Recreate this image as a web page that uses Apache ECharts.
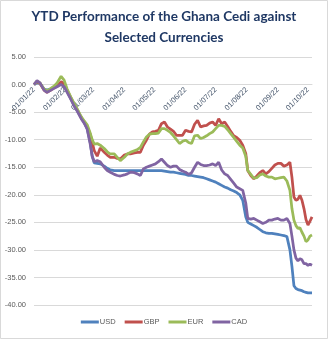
<!DOCTYPE html>
<html>
<head>
<meta charset="utf-8">
<script src="https://cdn.jsdelivr.net/npm/echarts@6/dist/echarts.min.js"></script>
<style>
html,body{margin:0;padding:0;background:#fff;}
#c{width:328px;height:339px;}
</style>
</head>
<body>
<div id="c"></div>
<script>
var titleText = 'YTD Performance of the Ghana Cedi against\nSelected Currencies';
var seriesNames = ['USD', 'GBP', 'EUR', 'CAD'];
var yTicks = [5, 0, -5, -10, -15, -20, -25, -30, -35, -40];

var dates = [
'2022-01-01','2022-01-04','2022-01-07','2022-01-11','2022-01-14','2022-01-17','2022-01-21','2022-01-24','2022-01-28','2022-01-31',
'2022-02-03','2022-02-07','2022-02-10','2022-02-13','2022-02-17','2022-02-20','2022-02-23','2022-02-26','2022-02-28','2022-03-02',
'2022-03-05','2022-03-08','2022-03-12','2022-03-15','2022-03-18','2022-03-22','2022-03-25','2022-03-28','2022-04-01','2022-04-04',
'2022-04-07','2022-04-11','2022-04-14','2022-04-17','2022-04-20','2022-04-23','2022-04-26','2022-04-29','2022-05-02','2022-05-05',
'2022-05-08','2022-05-11','2022-05-14','2022-05-17','2022-05-20','2022-05-23','2022-05-26','2022-05-29','2022-06-01','2022-06-04',
'2022-06-07','2022-06-10','2022-06-13','2022-06-16','2022-06-19','2022-06-22','2022-06-25','2022-06-28','2022-07-01','2022-07-04',
'2022-07-07','2022-07-10','2022-07-13','2022-07-16','2022-07-19','2022-07-22','2022-07-25','2022-07-28','2022-07-31','2022-08-02',
'2022-08-05','2022-08-08','2022-08-11','2022-08-14','2022-08-17','2022-08-20','2022-08-23','2022-08-26','2022-08-29','2022-09-01',
'2022-09-04','2022-09-07','2022-09-10','2022-09-13','2022-09-15','2022-09-17','2022-09-19','2022-09-21','2022-09-23','2022-09-25',
'2022-09-27','2022-09-29','2022-10-01','2022-10-03','2022-10-05'
];

var usd = [
0,0.3,0.2,-0.8,-1.0,-0.8,-0.5,-0.1,0.3,-0.2,
-1.2,-2.7,-3.8,-4.7,-6.0,-6.9,-8.0,-10.5,-13.0,-14.2,
-14.3,-14.4,-14.8,-15.2,-15.5,-15.6,-15.6,-15.6,-15.6,-15.6,
-15.6,-15.6,-15.6,-15.6,-15.6,-15.6,-15.6,-15.6,-15.6,-15.6,
-15.6,-15.7,-15.8,-15.9,-15.9,-16.0,-16.1,-16.2,-16.3,-16.5,
-16.5,-16.6,-16.7,-16.8,-16.9,-17.1,-17.3,-17.5,-17.7,-18.0,
-18.3,-18.6,-18.8,-19.1,-19.3,-19.6,-20.0,-21.0,-24.0,-25.0,
-25.3,-25.6,-25.9,-26.3,-26.7,-26.9,-27.0,-27.0,-27.1,-27.2,
-27.3,-27.4,-27.6,-30.0,-33.0,-36.5,-37.0,-37.2,-37.3,-37.4,
-37.6,-37.7,-37.8,-37.8,-37.8
];

var gbp = [
0,0.5,0.2,-1.0,-1.4,-1.1,-0.6,-0.3,0.5,0.2,
-1.0,-2.5,-3.6,-4.5,-6.0,-6.8,-7.6,-9.0,-10.5,-12.0,
-13.0,-11.5,-12.3,-12.8,-13.2,-13.2,-13.4,-13.5,-12.8,-12.6,
-12.6,-12.4,-12.3,-12.3,-11.0,-10.1,-9.0,-8.6,-8.5,-8.3,
-7.1,-6.8,-7.7,-8.1,-8.5,-9.2,-9.2,-9.2,-8.3,-8.5,
-8.6,-7.2,-6.5,-7.7,-7.5,-7.4,-7.0,-6.8,-7.4,-6.2,
-7.1,-6.8,-7.6,-8.5,-9.3,-9.6,-10.1,-11.0,-12.5,-15.6,
-16.5,-17.1,-16.6,-16.0,-15.6,-16.2,-15.8,-15.2,-14.6,-14.3,
-14.3,-14.8,-14.6,-14.1,-16.8,-20.4,-21.0,-20.8,-20.1,-21.0,
-22.5,-24.5,-25.5,-24.8,-24.0
];

var eur = [
0,0.6,0.3,-0.8,-1.1,-0.8,-0.3,0.3,1.5,0.8,
-0.8,-2.4,-3.4,-4.4,-5.8,-6.6,-7.3,-8.8,-10.0,-10.8,
-10.7,-11.0,-11.6,-12.2,-12.6,-12.6,-13.2,-13.8,-13.2,-12.6,
-12.3,-12.0,-11.8,-11.4,-10.4,-9.5,-9.0,-8.9,-8.9,-8.8,
-8.0,-8.0,-8.3,-8.7,-9.3,-10.0,-10.7,-10.3,-10.1,-10.5,
-10.7,-9.3,-9.2,-9.8,-9.6,-9.3,-8.9,-8.6,-8.0,-7.4,
-7.4,-7.6,-8.2,-8.9,-9.6,-10.3,-11.0,-11.5,-13.0,-15.6,
-16.3,-17.0,-16.9,-16.4,-16.2,-16.6,-16.8,-16.8,-17.1,-17.0,
-16.9,-16.8,-17.5,-19.2,-22.5,-24.6,-25.6,-26.1,-26.0,-26.8,
-27.5,-28.5,-28.2,-27.5,-27.3
];

var cad = [
0,0.7,0.3,-1.0,-1.4,-1.1,-0.7,-0.4,0.0,-0.4,
-1.4,-2.8,-3.9,-4.8,-6.2,-7.0,-8.1,-10.8,-13.0,-14.0,
-13.8,-14.0,-15.0,-15.6,-15.9,-16.3,-16.5,-16.6,-16.4,-16.2,
-15.9,-16.0,-16.2,-16.5,-15.3,-15.0,-14.8,-14.6,-14.4,-14.0,
-13.5,-14.1,-14.7,-15.0,-14.8,-14.8,-15.4,-15.7,-15.9,-16.3,
-16.0,-15.0,-14.1,-14.5,-14.7,-14.7,-14.6,-14.4,-14.7,-14.1,
-15.5,-16.2,-16.5,-17.2,-17.9,-18.6,-18.9,-19.2,-21.5,-24.3,
-24.4,-24.3,-24.6,-24.9,-25.2,-25.0,-24.6,-24.6,-24.4,-24.3,
-24.6,-24.6,-24.3,-25.2,-27.5,-30.0,-31.5,-32.0,-31.6,-31.8,
-32.5,-32.5,-32.8,-32.6,-32.8
];

var values = [usd, gbp, eur, cad];
var colors = ['#4F81BD', '#C0504D', '#9BBB59', '#8064A2'];

function pair(arr) {
  return dates.map(function (d, i) { return [d, arr[i]]; });
}
function pad(n) { return (n < 10 ? '0' : '') + n; }

var GRID_TOP = 57, GRID_BOTTOM = 34, H = 339;
var gridH = H - GRID_TOP - GRID_BOTTOM;
var yMax = yTicks[0], yMin = yTicks[yTicks.length - 1];
var zeroOffset = -gridH * (0 - yMin) / (yMax - yMin);

var chart = echarts.init(document.getElementById('c'), null, {renderer: 'canvas'});
var DAY = 24 * 3600 * 1000;
chart.setOption({
  backgroundColor: '#ffffff',
  animation: false,
  color: colors,
  title: {
    text: titleText,
    left: 'center',
    top: 1,
    textStyle: {
      fontFamily: 'Lato',
      fontWeight: 'bold',
      fontSize: 13.5,
      lineHeight: 21,
      color: '#1F3864'
    }
  },
  graphic: [{
    type: 'rect',
    shape: {x: 0.5, y: 0.5, width: 327, height: 338},
    style: {fill: 'none', stroke: '#D9D9D9', lineWidth: 1},
    silent: true
  }],
  grid: {left: 34, right: 16, top: GRID_TOP, bottom: GRID_BOTTOM, containLabel: false},
  xAxis: {
    type: 'time',
    min: dates[0],
    max: dates[dates.length - 1],
    minInterval: 28 * DAY,
    maxInterval: 31 * DAY,
    splitNumber: 10,
    offset: zeroOffset,
    axisLine: {onZero: false, lineStyle: {color: '#D9D9D9', width: 1}},
    axisTick: {show: false},
    splitLine: {show: false},
    axisLabel: {
      rotate: 45,
      fontSize: 7.5,
      fontFamily: 'Liberation Sans',
      color: '#44546A',
      margin: 4,
      showMaxLabel: false,
      hideOverlap: false,
      formatter: function (v) {
        var d = new Date(v);
        return pad(d.getDate()) + '/' + pad(d.getMonth() + 1) + '/' + String(d.getFullYear()).slice(2);
      }
    }
  },
  yAxis: {
    type: 'value',
    min: yMin,
    max: yMax,
    interval: 5,
    axisLine: {show: false},
    axisTick: {show: false},
    splitLine: {lineStyle: {color: '#D9D9D9', width: 1}},
    axisLabel: {
      fontSize: 7.5,
      fontFamily: 'Liberation Sans',
      color: '#595959',
      margin: 8,
      formatter: function (v) { return v.toFixed(2); }
    }
  },
  legend: {
    bottom: 8,
    left: 'center',
    itemWidth: 18,
    itemHeight: 3,
    itemGap: 9,
    icon: 'rect',
    textStyle: {fontSize: 7.5, fontFamily: 'Liberation Sans', color: '#595959', padding: [0, 0, 0, -4]},
    data: seriesNames
  },
  series: seriesNames.map(function (n, i) {
    return {
      name: n,
      type: 'line',
      showSymbol: false,
      symbol: 'none',
      lineStyle: {width: 2.75, color: colors[i]},
      data: pair(values[i])
    };
  })
});
</script>
</body>
</html>
